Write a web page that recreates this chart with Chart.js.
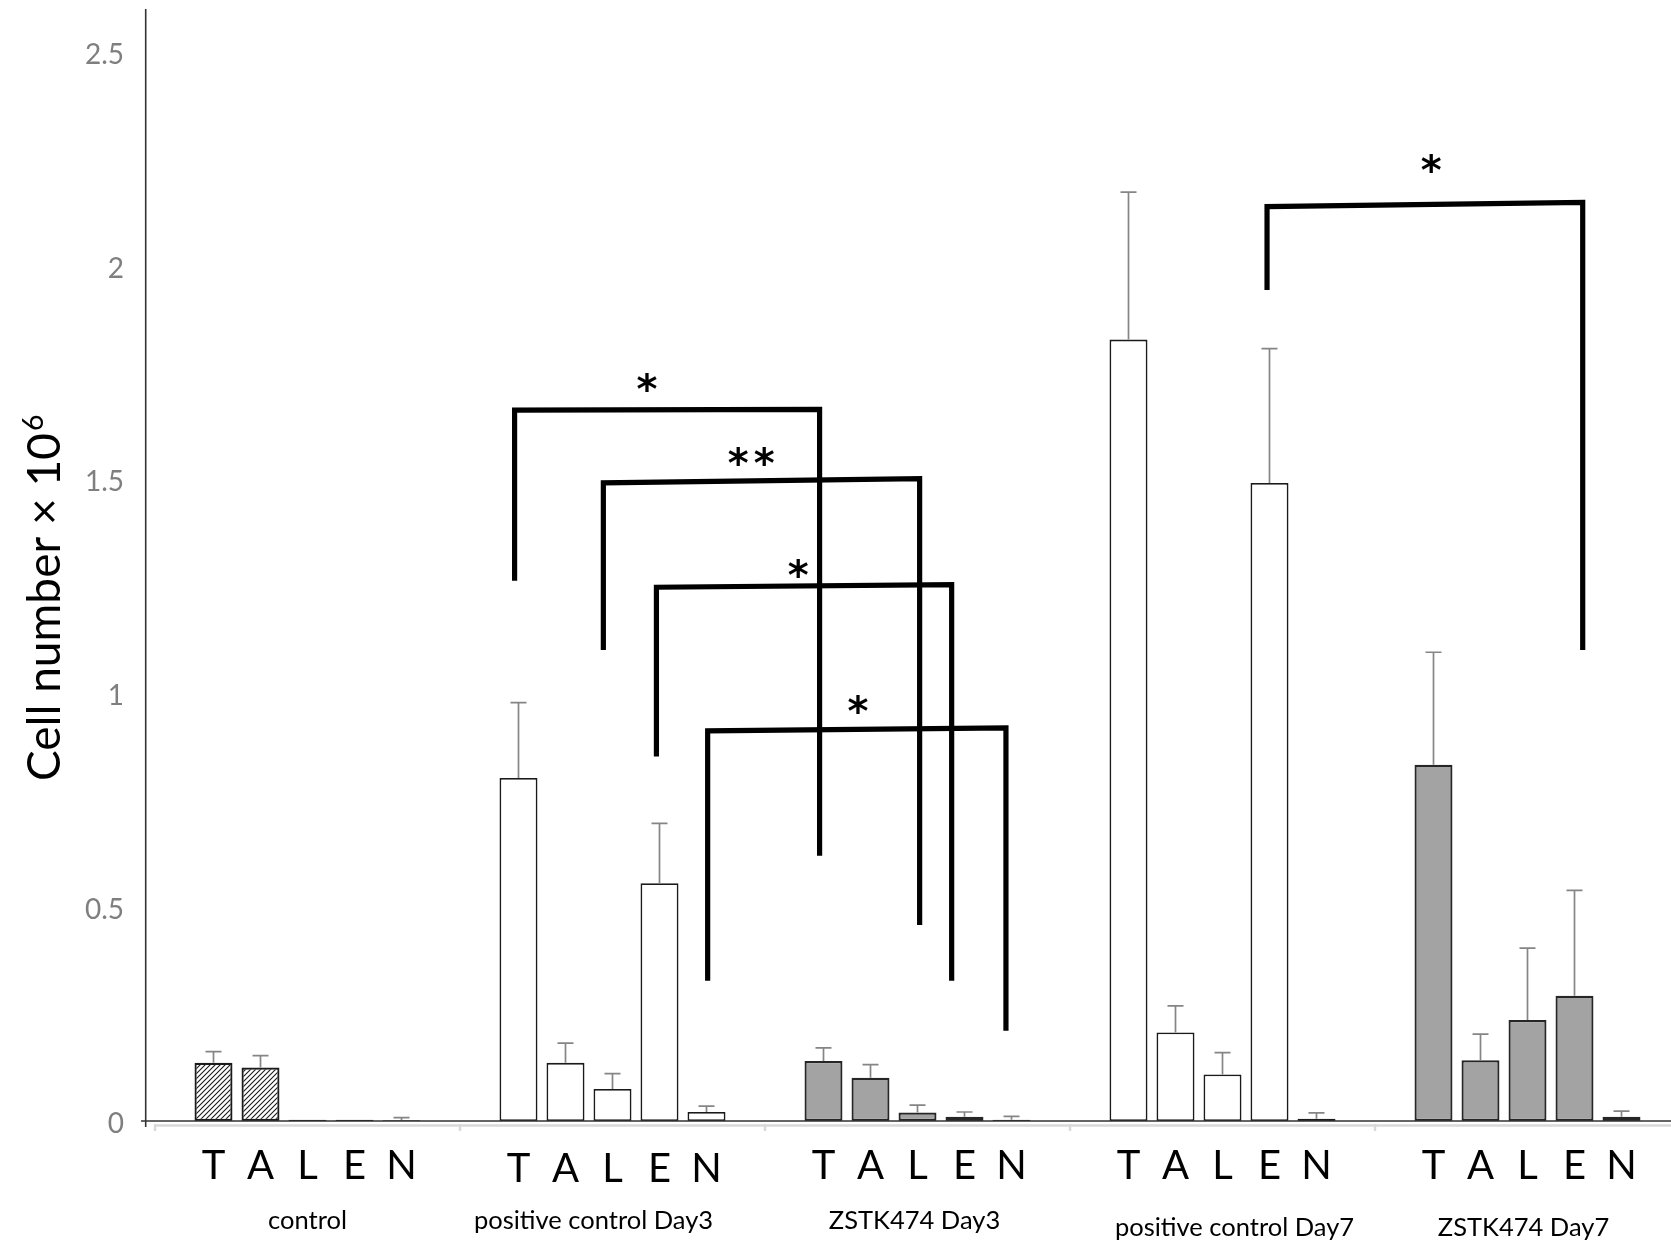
<!DOCTYPE html>
<html><head><meta charset="utf-8">
<script src="https://cdn.jsdelivr.net/npm/chart.js@4.4.1/dist/chart.umd.min.js"></script>
<style>
html,body{margin:0;padding:0;overflow:hidden;background:#fff;width:1671px;height:1242px}
canvas{display:block}
</style></head>
<body><canvas id="c" width="1680" height="1242"></canvas>
<script>
// ---------- data ----------
const categories = ['control', 'positive control Day3', 'ZSTK474 Day3', 'positive control Day7', 'ZSTK474 Day7'];
const letters = ['T', 'A', 'L', 'E', 'N'];
const seriesT = [0.136, 0.802, 0.140, 1.827, 0.833];
const seriesA = [0.125, 0.136, 0.101, 0.207, 0.142];
const seriesL = [0.003, 0.075, 0.020, 0.109, 0.236];
const seriesE = [0.003, 0.556, 0.010, 1.492, 0.293];
const seriesN = [0.002, 0.021, 0.003, 0.005, 0.010];
const errT = [0.026, 0.176, 0.031, 0.345, 0.263];
const errA = [0.028, 0.046, 0.031, 0.062, 0.061];
const errL = [0, 0.036, 0.017, 0.051, 0.168];
const errE = [0, 0.140, 0.011, 0.314, 0.246];
const errN = [0.006, 0.014, 0.008, 0.014, 0.013];
const groupKind = ['hatch', 'white', 'gray', 'white', 'gray'];
const yTicks = [0, 0.5, 1, 1.5, 2, 2.5];
// significance brackets (x in category units, y in data units)
const bracketLeft  = [0.679, 0.970, 1.144, 1.312, 3.146];
const bracketRight = [1.679, 2.007, 2.112, 2.290, 4.181];
const bracketTopL  = [1.662, 1.492, 1.248, 0.912, 2.138];
const bracketTopR  = [1.664, 1.502, 1.254, 0.919, 2.148];
const bracketFootL = [1.263, 1.101, 0.852, 0.328, 1.943];
const bracketFootR = [0.620, 0.458, 0.328, 0.211, 1.101];
const bracketMark  = ['*', '**', '*', '*', '*'];
const markX = [1.113, 1.455, 1.609, 1.805, 3.684];
const markY = [1.729, 1.555, 1.294, 0.976, 2.240];

const seriesList = [seriesT, seriesA, seriesL, seriesE, seriesN];
const errList = [errT, errA, errL, errE, errN];

// ---------- styling ----------
const canvas = document.getElementById('c');
const ctx0 = canvas.getContext('2d');
function hatchPattern() {
  const s = 5;
  const p = document.createElement('canvas');
  p.width = s; p.height = s;
  const g = p.getContext('2d');
  g.fillStyle = '#fff'; g.fillRect(0, 0, s, s);
  g.strokeStyle = '#1a1a1a'; g.lineWidth = 1.1;
  g.beginPath();
  g.moveTo(-1, s + 1); g.lineTo(s + 1, -1);
  g.moveTo(-1, 1); g.lineTo(1, -1);
  g.moveTo(s - 1, s + 1); g.lineTo(s + 1, s - 1);
  g.stroke();
  return ctx0.createPattern(p, 'repeat');
}
const hatch = hatchPattern();
const fillFor = k => k === 'hatch' ? hatch : (k === 'white' ? '#ffffff' : '#a3a3a3');
const FONT = 'Lato, "Open Sans", sans-serif';
const labelDx = [0, -19, -3, 12, -4];
const labelDy = [0, 0, 0, 7, 7];
const letterDy = [0, 3, 0, 0, 0];

const deco = {
  id: 'deco',
  afterDatasetsDraw(chart) {
    const { ctx, chartArea: a, scales: { x, y } } = chart;
    const y0 = y.getPixelForValue(0);
    ctx.save();
    // error bars
    ctx.strokeStyle = '#858585'; ctx.lineWidth = 1.7;
    seriesList.forEach((d, i) => {
      chart.getDatasetMeta(i).data.forEach((bar, j) => {
        const e = errList[i][j];
        if (!e) return;
        const yt = y.getPixelForValue(d[j]);
        const ye = y.getPixelForValue(d[j] + e);
        ctx.beginPath();
        ctx.moveTo(bar.x, yt); ctx.lineTo(bar.x, ye);
        ctx.moveTo(bar.x - 8, ye); ctx.lineTo(bar.x + 8, ye);
        ctx.stroke();
      });
    });
    // category axis (light) with boundary ticks
    ctx.strokeStyle = '#d9d9d9'; ctx.lineWidth = 2.5;
    ctx.beginPath();
    ctx.moveTo(a.left, y0 + 4.5); ctx.lineTo(a.right, y0 + 4.5);
    for (let k = 0; k <= categories.length; k++) {
      const px = x.getPixelForValue(k - 0.5);
      ctx.moveTo(px, y0 + 3); ctx.lineTo(px, y0 + 10);
    }
    ctx.stroke();
    // zero line and value axis
    ctx.strokeStyle = '#333'; ctx.lineWidth = 1.6;
    ctx.beginPath();
    ctx.moveTo(a.left - 14, y0); ctx.lineTo(a.right, y0);
    ctx.moveTo(a.left - 9.3, a.top); ctx.lineTo(a.left - 9.3, y0 + 6);
    ctx.stroke();
    // significance brackets
    ctx.strokeStyle = '#000'; ctx.lineWidth = 5.2; ctx.lineJoin = 'miter'; ctx.lineCap = 'butt';
    ctx.fillStyle = '#000';
    ctx.font = 'bold 40px "DejaVu Sans", sans-serif';
    ctx.textAlign = 'center'; ctx.textBaseline = 'alphabetic';
    const m = ctx.measureText('*');
    const starShift = (m.actualBoundingBoxAscent - m.actualBoundingBoxDescent) / 2;
    bracketLeft.forEach((l, k) => {
      const xl = x.getPixelForValue(l), xr = x.getPixelForValue(bracketRight[k]);
      ctx.beginPath();
      ctx.moveTo(xl, y.getPixelForValue(bracketFootL[k]));
      ctx.lineTo(xl, y.getPixelForValue(bracketTopL[k]));
      ctx.lineTo(xr, y.getPixelForValue(bracketTopR[k]));
      ctx.lineTo(xr, y.getPixelForValue(bracketFootR[k]));
      ctx.stroke();
      const mark = bracketMark[k];
      const cx = x.getPixelForValue(markX[k]), cy = y.getPixelForValue(markY[k]);
      for (let s = 0; s < mark.length; s++) {
        ctx.fillText(mark[s], cx + (s - (mark.length - 1) / 2) * 26, cy + starShift);
      }
    });
    ctx.restore();
  },
  afterDraw(chart) {
    const { ctx, scales: { x, y } } = chart;
    const y0 = y.getPixelForValue(0);
    ctx.save();
    ctx.fillStyle = '#000';
    ctx.textAlign = 'center'; ctx.textBaseline = 'alphabetic';
    // per-bar letters
    ctx.font = '40px ' + FONT;
    letters.forEach((t, i) => {
      chart.getDatasetMeta(i).data.forEach((bar, j) => {
        ctx.fillText(t, bar.x, y0 + 58 + letterDy[j]);
      });
    });
    // group names
    ctx.font = '25.5px ' + FONT;
    categories.forEach((c, j) => {
      ctx.fillText(c, x.getPixelForValue(j) + labelDx[j], y0 + 108 + labelDy[j]);
    });
    // y title, rotated, with superscript
    const main = 'Cell number \u00d7 10';
    ctx.font = '50px ' + FONT;
    const size = 50 * 348 / ctx.measureText(main).width;
    ctx.translate(60, 781);
    ctx.rotate(-Math.PI / 2);
    ctx.textAlign = 'left';
    ctx.font = size.toFixed(2) + 'px ' + FONT;
    ctx.fillText(main, 0, 0);
    const w = ctx.measureText(main).width;
    ctx.font = (size * 0.62).toFixed(2) + 'px ' + FONT;
    ctx.fillText('6', w + 2, -size * 0.36);
    ctx.restore();
  }
};

new Chart(canvas, {
  type: 'bar',
  data: {
    labels: categories,
    datasets: seriesList.map((d, i) => ({
      label: letters[i],
      data: d,
      backgroundColor: groupKind.map(fillFor),
      borderColor: groupKind.map(k => k === 'gray' ? '#262626' : '#1a1a1a'),
      borderWidth: groupKind.map(k => k === 'white' ? 1.8 : 2.2),
      borderSkipped: false,
      categoryPercentage: 0.7705,
      barPercentage: 0.808
    }))
  },
  options: {
    responsive: false,
    animation: false,
    layout: { padding: { top: 9, left: 0, right: 0, bottom: 0 } },
    plugins: { legend: { display: false }, tooltip: { enabled: false }, title: { display: false } },
    scales: {
      x: {
        grid: { display: false },
        border: { display: false },
        ticks: { display: false },
        afterFit: s => { s.height = 121; s.paddingLeft = 0; s.paddingRight = 0; }
      },
      y: {
        min: 0, max: 2.6,
        afterBuildTicks: s => { s.ticks = yTicks.map(v => ({ value: v })); },
        grid: { display: false, drawTicks: false },
        border: { display: false },
        ticks: {
          color: '#7f7f7f',
          font: { family: FONT, size: 28 },
          padding: 31,
          labelOffset: 3,
          callback: v => String(v)
        },
        afterFit: s => { s.width = 155; s.paddingTop = 0; s.paddingBottom = 0; }
      }
    }
  },
  plugins: [deco]
});
</script>
</body></html>
